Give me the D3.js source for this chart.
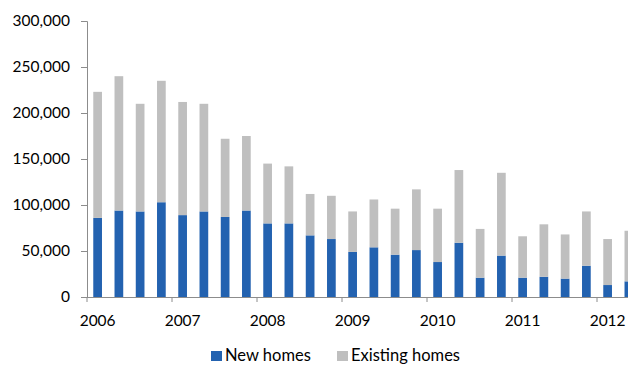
<!DOCTYPE html>
<html>
<head>
<meta charset="utf-8">
<script src="https://cdn.jsdelivr.net/npm/d3@7"></script>
<style>
  html, body { margin: 0; padding: 0; background: #fff; }
  svg { display: block; }
  text { font-family: Lato, "Open Sans", sans-serif; fill: #000; }
</style>
</head>
<body>
<svg id="chart" width="628" height="366"></svg>
<script>
// Quarterly home sales, 2006 Q1 – 2012 Q2
const quarters = [
  "2006Q1","2006Q2","2006Q3","2006Q4",
  "2007Q1","2007Q2","2007Q3","2007Q4",
  "2008Q1","2008Q2","2008Q3","2008Q4",
  "2009Q1","2009Q2","2009Q3","2009Q4",
  "2010Q1","2010Q2","2010Q3","2010Q4",
  "2011Q1","2011Q2","2011Q3","2011Q4",
  "2012Q1","2012Q2"
];
const newHomes = [
  86000, 94000, 93000, 103000,
  89000, 93000, 87000, 94000,
  80000, 80000, 67000, 63000,
  49000, 54000, 46000, 51000,
  38000, 59000, 21000, 45000,
  21000, 22000, 20000, 34000,
  13000, 17000
];
const existingHomes = [
  137000, 146000, 117000, 132000,
  123000, 117000, 85000, 81000,
  65000, 62000, 45000, 47000,
  44000, 52000, 50000, 66000,
  58000, 79000, 53000, 90000,
  45000, 57000, 48000, 59000,
  50000, 55000
];
const yTicks = [0, 50000, 100000, 150000, 200000, 250000, 300000];
const years = ["2006","2007","2008","2009","2010","2011","2012"];
const seriesNames = ["New homes", "Existing homes"];
const colors = ["#2362B0", "#BFBFBF"];

const svg = d3.select("#chart");
const margin = { left: 87, top: 21, bottom: 69 };
const bandW = 21.25;
const x0 = margin.left;
const y0 = 366 - margin.bottom;

const x = d3.scaleBand()
  .domain(quarters)
  .range([x0, x0 + bandW * quarters.length])
  .paddingInner(0.59)
  .paddingOuter(0.295);

const y = d3.scaleLinear().domain([0, 300000]).range([y0, margin.top]);

const rows = quarters.map((q, i) => ({ q, new: newHomes[i], existing: existingHomes[i] }));
const stack = d3.stack().keys(["new", "existing"])(rows);

svg.append("g")
  .selectAll("g.series")
  .data(stack)
  .join("g")
  .attr("fill", (d, i) => colors[i])
  .selectAll("rect")
  .data(d => d)
  .join("rect")
  .attr("x", d => x(d.data.q))
  .attr("width", x.bandwidth())
  .attr("y", d => y(d[1]))
  .attr("height", d => y(d[0]) - y(d[1]));

// Y axis
const yAxis = d3.axisLeft(y)
  .tickValues(yTicks)
  .tickSize(6)
  .tickPadding(11)
  .tickFormat(d3.format(","));
const ya = svg.append("g").attr("transform", `translate(${x0},0)`).call(yAxis);
ya.select(".domain").attr("stroke", "#8c8c8c");
ya.selectAll(".tick line").attr("stroke", "#8c8c8c");
ya.selectAll("text").attr("font-size", 15.5).attr("font-family", "Lato, sans-serif");

// X axis baseline and year-boundary ticks; year labels sit under each Q1 bar
const xEnd = 640;
svg.append("line")
  .attr("x1", x0).attr("x2", xEnd)
  .attr("y1", y0 + 0.5).attr("y2", y0 + 0.5)
  .attr("stroke", "#8c8c8c");
years.forEach(yr => {
  const q = yr + "Q1";
  const tickX = x(q) - (x.step() - x.bandwidth()) / 2;
  svg.append("line")
    .attr("x1", tickX).attr("x2", tickX)
    .attr("y1", y0).attr("y2", y0 + 5)
    .attr("stroke", "#8c8c8c");
  svg.append("text")
    .attr("x", x(q) + x.bandwidth() / 2)
    .attr("y", y0 + 29)
    .attr("text-anchor", "middle")
    .attr("font-size", 15.5)
    .text(yr);
});

// Legend
const legend = svg.append("g");
const legendItems = [
  { name: seriesNames[0], color: colors[0], x: 211 },
  { name: seriesNames[1], color: colors[1], x: 337 }
];
legendItems.forEach(it => {
  legend.append("rect")
    .attr("x", it.x).attr("y", 351)
    .attr("width", 11).attr("height", 10)
    .attr("fill", it.color);
  legend.append("text")
    .attr("x", it.x + 14).attr("y", 361)
    .attr("font-size", 16.5)
    .text(it.name);
});
</script>
</body>
</html>
